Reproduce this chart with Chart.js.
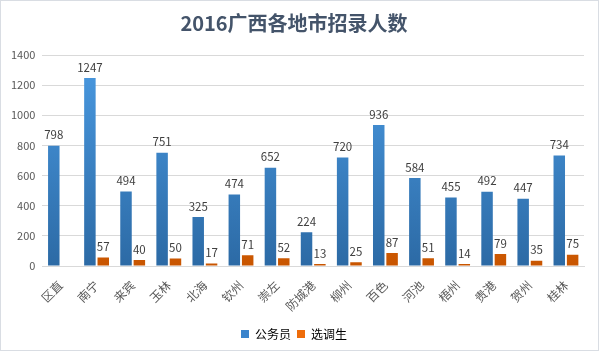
<!DOCTYPE html>
<html>
<head>
<meta charset="utf-8">
<script src="https://cdn.jsdelivr.net/npm/chart.js@4"></script>
<style>
  html, body { margin: 0; padding: 0; background: #fff; }
  #wrap { width: 599px; height: 351px; box-sizing: border-box; border: 1px solid #d9dde3; position: relative; }
  canvas { display: block; }
</style>
</head>
<body>
<div id="wrap"><canvas id="myChart" width="597" height="349"></canvas></div>
<script>
// 数据
const cities = ['区直', '南宁', '来宾', '玉林', '北海', '钦州', '崇左', '防城港', '柳州', '百色', '河池', '梧州', '贵港', '贺州', '桂林'];
const gongwuyuan = [798, 1247, 494, 751, 325, 474, 652, 224, 720, 936, 584, 455, 492, 447, 734];
const xuandiaosheng = [null, 57, 40, 50, 17, 71, 52, 13, 25, 87, 51, 14, 79, 35, 75];
const seriesNames = ['公务员', '选调生'];

const FONT = '"Microsoft YaHei", "Noto Sans CJK SC", sans-serif';
const canvas = document.getElementById('myChart');
const ctx = canvas.getContext('2d');

// 渐变填充
const makeGradient = (chart, top, bottom) => {
    const area = chart.chartArea;
    if (!area) return top;
    const g = chart.ctx.createLinearGradient(0, area.top, 0, area.bottom);
    g.addColorStop(0, top);
    g.addColorStop(1, bottom);
    return g;
};

// 柱顶数值
const valueLabels = {
    id: 'valueLabels',
    afterDatasetsDraw(chart) {
        const c = chart.ctx;
        c.save();
        c.font = '11.5px ' + FONT;
        c.fillStyle = '#404040';
        c.textAlign = 'center';
        c.textBaseline = 'bottom';
        chart.data.datasets.forEach((ds, i) => {
            chart.getDatasetMeta(i).data.forEach((bar, j) => {
                const v = ds.data[j];
                if (v === null || v === undefined) return;
                c.fillText(String(v), bar.x, bar.y - 5);
            });
        });
        c.restore();
    }
};

window.myChart = new Chart(ctx, {
    type: 'bar',
    data: {
        labels: cities,
        datasets: [{
            label: seriesNames[0],
            data: gongwuyuan,
            backgroundColor: (c) => makeGradient(c.chart, '#4a9ae2', '#2c6aa5')
        }, {
            label: seriesNames[1],
            data: xuandiaosheng,
            backgroundColor: (c) => makeGradient(c.chart, '#ff7f13', '#c85500')
        }]
    },
    options: {
        responsive: false,
        animation: false,
        datasets: {
            bar: { categoryPercentage: 0.74, barPercentage: 0.86, grouped: true }
        },
        layout: { padding: { left: 3, right: 14, top: 4, bottom: 0 } },
        plugins: {
            title: {
                display: true,
                text: '2016广西各地市招录人数',
                color: '#44546a',
                font: { family: FONT, size: 20, weight: 'bold' },
                padding: { top: 6, bottom: 20 }
            },
            legend: {
                position: 'bottom',
                labels: {
                    color: '#44546a',
                    font: { family: FONT, size: 12 },
                    boxWidth: 8,
                    boxHeight: 8,
                    padding: 6,
                    generateLabels(chart) {
                        return chart.data.datasets.map((ds, i) => ({
                            text: ds.label,
                            fillStyle: i === 0 ? '#3a84cc' : '#ee6c0a',
                            strokeStyle: 'transparent',
                            lineWidth: 0,
                            datasetIndex: i
                        }));
                    }
                }
            },
            tooltip: { enabled: false }
        },
        scales: {
            x: {
                grid: { display: false, drawTicks: false },
                border: { color: '#d9d9d9' },
                ticks: {
                    color: '#595959',
                    font: { family: FONT, size: 12 },
                    maxRotation: 45,
                    minRotation: 45,
                    padding: 12
                },
                afterFit: (scale) => { scale.height = 56; }
            },
            y: {
                min: 0,
                max: 1400,
                ticks: {
                    stepSize: 200,
                    color: '#595959',
                    font: { family: FONT, size: 11 },
                    padding: 7,
                    callback: (v) => String(v)
                },
                grid: { color: '#d9d9d9', drawTicks: false },
                border: { display: false }
            }
        }
    },
    plugins: [valueLabels]
});
</script>
</body>
</html>
